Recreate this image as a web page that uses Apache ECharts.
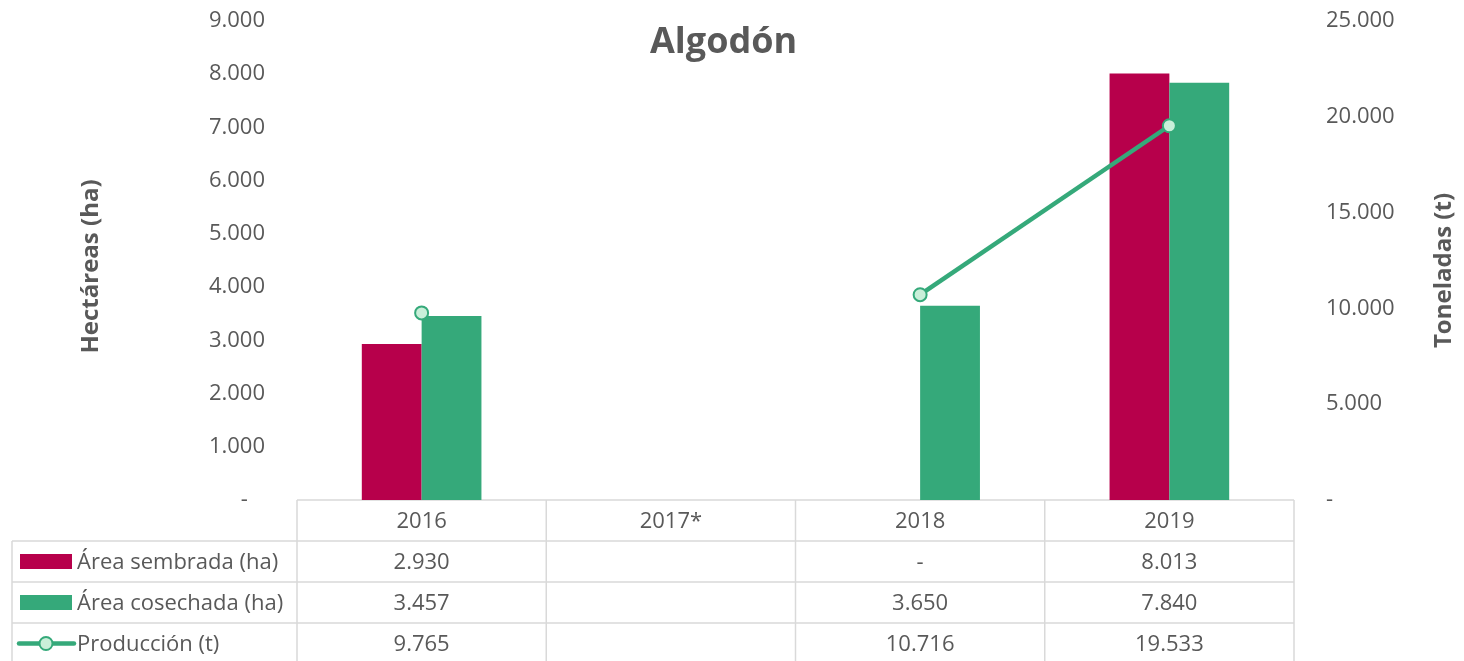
<!DOCTYPE html>
<html>
<head>
<meta charset="utf-8">
<script src="https://cdn.jsdelivr.net/npm/echarts@6/dist/echarts.min.js"></script>
<style>
  html, body { margin: 0; padding: 0; background: #fff; }
  #chart { width: 1464px; height: 661px; }
</style>
</head>
<body>
<div id="chart"></div>
<script>
// Cotton: planted / harvested area (ha) and production (t)
const years = ['2016', '2017*', '2018', '2019'];
const areaSembrada = [2930, null, 0, 8013];
const areaCosechada = [3457, null, 3650, 7840];
const produccion = [9765, null, 10716, 19533];
const seriesNames = ['Área sembrada (ha)', 'Área cosechada (ha)', 'Producción (t)'];

const RED = '#B7004B';
const GREEN = '#35A97A';
const TEXT = '#595959';
const RULE = '#D9D9D9';
const FONT = '"Open Sans", "Noto Sans", sans-serif';

function fmt(v) {
  if (v === null || v === undefined) return '';
  if (v === 0) return '-';
  return String(Math.round(v)).replace(/\B(?=(\d{3})+(?!\d))/g, '.');
}

const chart = echarts.init(document.getElementById('chart'));

chart.setOption({
  animation: false,
  backgroundColor: '#fff',
  textStyle: { fontFamily: FONT },
  title: {
    text: 'Algodón',
    left: 645,
    top: 20,
    textStyle: { fontFamily: FONT, fontSize: 36, fontWeight: 'bold', color: TEXT }
  },
  grid: { left: 297, right: 168, top: 21, bottom: 161, containLabel: false },
  xAxis: {
    type: 'category',
    data: years,
    axisLine: { show: false },
    axisTick: { show: false },
    axisLabel: { show: false },
    splitLine: { show: false }
  },
  yAxis: [
    {
      type: 'value', min: 0, max: 9000, interval: 1000,
      name: 'Hectáreas (ha)', nameLocation: 'middle', nameGap: 194, nameRotate: 90,
      nameTextStyle: { fontFamily: FONT, fontSize: 24, fontWeight: 'bold', color: TEXT, padding: [0, 12, 0, 0] },
      axisLine: { show: false }, axisTick: { show: false }, splitLine: { show: false },
      axisLabel: {
        margin: 32, fontSize: 22, color: TEXT, fontFamily: FONT,
        formatter: v => v === 0 ? '-   ' : fmt(v)
      }
    },
    {
      type: 'value', min: 0, max: 25000, interval: 5000,
      name: 'Toneladas (t)', nameLocation: 'middle', nameGap: 138, nameRotate: 90,
      nameTextStyle: { fontFamily: FONT, fontSize: 24, fontWeight: 'bold', color: TEXT, padding: [0, 20, 0, 0] },
      axisLine: { show: false }, axisTick: { show: false }, splitLine: { show: false },
      axisLabel: {
        margin: 32, fontSize: 22, color: TEXT, fontFamily: FONT,
        formatter: v => v === 0 ? '-' : fmt(v)
      }
    }
  ],
  series: [
    {
      name: seriesNames[0], type: 'bar', yAxisIndex: 0, data: areaSembrada,
      barGap: '0%', barCategoryGap: '52%',
      itemStyle: { color: RED }
    },
    {
      name: seriesNames[1], type: 'bar', yAxisIndex: 0, data: areaCosechada,
      barGap: '0%', barCategoryGap: '52%',
      itemStyle: { color: GREEN }
    },
    {
      name: seriesNames[2], type: 'line', yAxisIndex: 1, data: produccion,
      connectNulls: false,
      symbol: 'circle', symbolSize: 13,
      lineStyle: { color: GREEN, width: 4.5 },
      itemStyle: { color: '#C9EFD9', borderColor: GREEN, borderWidth: 2 },
      z: 5
    }
  ]
});

// Data table under the plot, aligned with the category bands
function buildTable() {
  const centers = years.map((y, i) => chart.convertToPixel({ xAxisIndex: 0 }, i));
  const band = centers[1] - centers[0];
  const xs = [centers[0] - band / 2].concat(centers.map(c => c + band / 2));
  const y0 = chart.convertToPixel({ yAxisIndex: 0 }, 0);
  const rowH = 41;
  const rows = [y0, y0 + rowH, y0 + 2 * rowH, y0 + 3 * rowH, y0 + 4 * rowH];
  const leftX = 12;
  const right = xs[xs.length - 1];
  const els = [];
  const line = (x1, y1, x2, y2) => els.push({
    type: 'line', silent: true,
    shape: { x1, y1, x2, y2 },
    style: { stroke: RULE, lineWidth: 1.5 }
  });
  const text = (x, y, t, align) => els.push({
    type: 'text', silent: true,
    x, y,
    style: { text: t, fill: TEXT, font: '22px ' + FONT, align: align || 'center', verticalAlign: 'middle' }
  });

  // horizontal rules
  line(xs[0], rows[0], right, rows[0]);
  for (let r = 1; r <= 3; r++) line(leftX, rows[r], right, rows[r]);
  // vertical rules
  xs.forEach(x => line(x, rows[0], x, rows[4]));
  line(leftX, rows[1], leftX, rows[4]);

  // header
  years.forEach((y, i) => text(centers[i], (rows[0] + rows[1]) / 2 + 1, y));

  const tableData = [areaSembrada, areaCosechada, produccion];
  tableData.forEach((arr, r) => {
    const cy = (rows[r + 1] + rows[r + 2]) / 2 + 1;
    arr.forEach((v, i) => text(centers[i], cy, fmt(v)));
    text(77, cy, seriesNames[r], 'left');
  });

  // legend keys
  const k1 = (rows[1] + rows[2]) / 2;
  const k2 = (rows[2] + rows[3]) / 2;
  const ky = (rows[3] + rows[4]) / 2;
  els.push({ type: 'rect', silent: true, shape: { x: 20, y: k1 - 7.5, width: 52, height: 15 }, style: { fill: RED } });
  els.push({ type: 'rect', silent: true, shape: { x: 20, y: k2 - 7.5, width: 52, height: 15 }, style: { fill: GREEN } });
  els.push({ type: 'line', silent: true, shape: { x1: 19, y1: ky, x2: 74, y2: ky }, style: { stroke: GREEN, lineWidth: 4.5, lineCap: 'round' } });
  els.push({ type: 'circle', silent: true, shape: { cx: 46, cy: ky, r: 6.5 }, style: { fill: '#C9EFD9', stroke: GREEN, lineWidth: 2 } });

  chart.setOption({ graphic: { elements: els } });
}
buildTable();
</script>
</body>
</html>
